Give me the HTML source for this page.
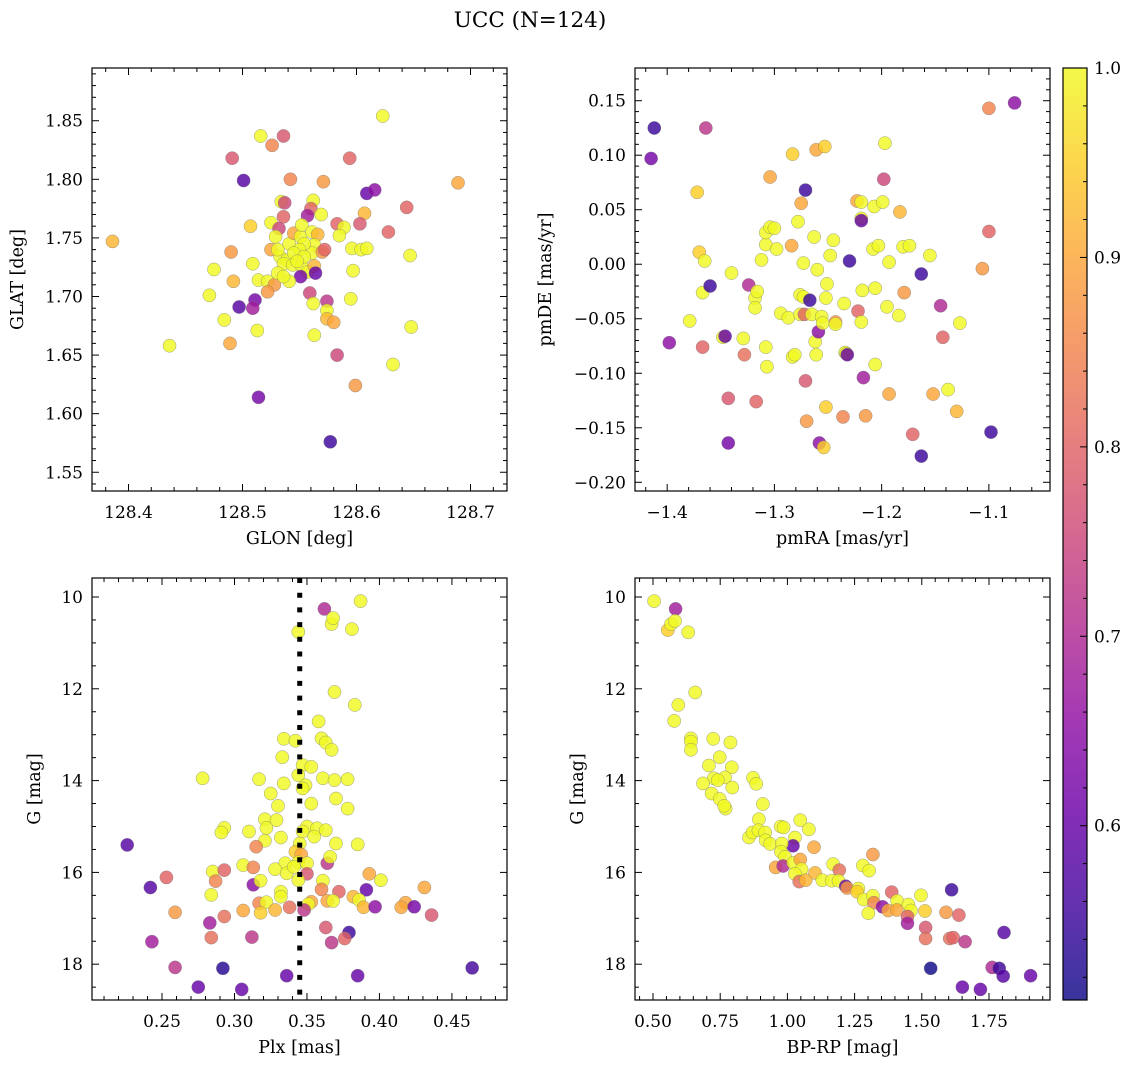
<!DOCTYPE html>
<html><head><meta charset="utf-8">
<style>
html,body{margin:0;padding:0;background:#fff;}
svg{display:block;font-family:"DejaVu Serif","Liberation Serif",serif;}
</style></head>
<body>
<svg id="fig" width="1136" height="1068" viewBox="0 0 1136 1068" xmlns="http://www.w3.org/2000/svg">
<defs>
<linearGradient id="plasma" x1="0" y1="1" x2="0" y2="0">
<stop offset="0" stop-color="#0d0887"/><stop offset="0.1" stop-color="#41049d"/><stop offset="0.2" stop-color="#6a00a8"/><stop offset="0.3" stop-color="#8f0da4"/><stop offset="0.4" stop-color="#b12a90"/><stop offset="0.5" stop-color="#cc4778"/><stop offset="0.6" stop-color="#e16462"/><stop offset="0.7" stop-color="#f2844b"/><stop offset="0.8" stop-color="#fca636"/><stop offset="0.9" stop-color="#fcce25"/><stop offset="1" stop-color="#f0f921"/>
</linearGradient>
</defs>
<text x="530" y="27" font-size="21.5" text-anchor="middle">UCC (N=124)</text>
</svg>
<script>
// ---- data ----
const posPoints = [[128.386,1.747,.92],[128.436,1.658,1],[128.514,1.614,.62],[128.577,1.576,.55],[128.583,1.650,.75],[128.599,1.624,.88],[128.632,1.642,1],[128.689,1.797,.9],
[128.623,1.854,1],[128.516,1.837,1],[128.536,1.837,.78],[128.526,1.829,.85],[128.491,1.818,.78],[128.594,1.818,.8],[128.501,1.799,.58],[128.542,1.800,.85],[128.571,1.798,.88],[128.609,1.788,.6],[128.616,1.791,.65],[128.534,1.781,1],[128.537,1.780,.75],[128.562,1.782,1],[128.560,1.775,.8],[128.557,1.769,.68],[128.569,1.770,1],[128.644,1.776,.8],[128.607,1.771,.92],[128.536,1.768,.8],[128.507,1.760,.95],[128.525,1.763,1],[128.532,1.758,.75],[128.583,1.762,.8],[128.589,1.759,1],[128.585,1.752,1],[128.603,1.762,.78],[128.628,1.755,.8],[128.647,1.735,1],[128.490,1.738,.88],[128.475,1.723,1],[128.509,1.728,1],[128.492,1.713,.92],[128.514,1.714,1],[128.522,1.713,1],[128.528,1.710,.88],[128.522,1.704,.88],[128.471,1.701,1],[128.597,1.722,1],[128.596,1.741,1],[128.604,1.740,1],[128.609,1.741,1],[128.595,1.698,1],[128.497,1.691,.58],[128.511,1.697,.62],[128.509,1.690,.68],[128.559,1.703,.75],[128.562,1.694,1],[128.574,1.696,.72],[128.574,1.688,1],[128.574,1.681,.92],[128.580,1.678,.9],[128.484,1.680,1],[128.513,1.671,1],[128.489,1.660,.9],[128.563,1.667,1],[128.648,1.674,1],
[128.525,1.740,.9],[128.529,1.751,1],[128.533,1.734,1],[128.531,1.740,1],[128.541,1.745,1],[128.539,1.731,1],[128.536,1.728,1],[128.545,1.754,.9],[128.551,1.751,1],[128.552,1.761,1],[128.561,1.755,1],[128.566,1.753,.92],[128.563,1.744,1],[128.561,1.737,1],[128.554,1.745,1],[128.550,1.740,1],[128.545,1.737,1],[128.544,1.727,1],[128.552,1.726,1],[128.557,1.721,1],[128.563,1.726,.92],[128.564,1.720,.6],[128.551,1.717,.62],[128.541,1.713,1],[128.531,1.720,1],[128.536,1.717,1],[128.570,1.738,.88],[128.572,1.740,.8],[128.554,1.734,1],[128.548,1.730,1]];

const pmPoints = [[-1.412,0.125,.55],[-1.415,0.097,.62],[-1.398,-0.072,.65],[-1.379,-0.052,1],[-1.372,0.066,.95],[-1.370,0.011,.95],[-1.367,-0.026,1],[-1.367,-0.076,.8],[-1.365,0.003,1],[-1.364,0.125,.72],[-1.360,-0.020,.55],[-1.348,-0.067,1],[-1.346,-0.066,.6],[-1.343,-0.123,.78],[-1.343,-0.164,.62],[-1.340,-0.008,1],[-1.329,-0.068,1],[-1.328,-0.083,.82],[-1.324,-0.019,.7],[-1.318,-0.031,1],[-1.318,-0.040,1],[-1.317,-0.126,.8],[-1.316,-0.025,1],[-1.312,0.004,1],[-1.308,0.018,1],[-1.308,0.029,1],[-1.308,-0.076,1],[-1.307,-0.094,1],[-1.304,0.080,.9],[-1.304,0.034,1],[-1.300,0.033,1],[-1.298,0.014,1],[-1.294,-0.045,1],[-1.287,-0.049,1],[-1.284,0.017,.9],[-1.283,0.101,.95],[-1.283,-0.085,1],[-1.281,-0.083,1],[-1.278,0.039,1],[-1.276,-0.028,1],[-1.276,-0.046,1],[-1.275,0.056,.9],[-1.273,-0.030,1],[-1.273,0.001,1],[-1.272,-0.046,.8],[-1.271,-0.107,.78],[-1.271,0.068,.55],[-1.270,-0.144,.88],[-1.267,-0.033,.55],[-1.265,-0.046,1],[-1.263,0.025,1],[-1.262,-0.071,1],[-1.261,-0.083,1],[-1.261,0.105,.9],[-1.260,-0.005,1],[-1.259,-0.062,.65],[-1.258,-0.164,.65],[-1.256,-0.048,1],[-1.255,-0.054,1],[-1.254,-0.168,.95],[-1.253,0.108,.95],[-1.252,-0.131,.95],[-1.252,-0.031,1],[-1.251,-0.018,1],[-1.248,0.008,1],[-1.245,0.022,1],[-1.243,-0.053,.88],[-1.243,-0.055,1],[-1.236,-0.140,.85],[-1.235,-0.036,1],[-1.234,-0.081,1],[-1.233,-0.082,1],[-1.232,-0.083,.6],[-1.230,0.003,.55],[-1.223,0.058,.9],[-1.222,-0.043,.8],[-1.219,0.042,1],[-1.219,0.057,1],[-1.219,0.040,.6],[-1.219,-0.053,1],[-1.218,-0.024,1],[-1.217,-0.104,.68],[-1.215,-0.139,.88],[-1.208,0.014,1],[-1.207,0.053,1],[-1.206,-0.092,1],[-1.206,-0.022,1],[-1.203,0.017,1],[-1.199,0.057,1],[-1.198,0.078,.75],[-1.197,0.111,1],[-1.195,-0.039,1],[-1.193,0.002,1],[-1.193,-0.119,.9],[-1.184,-0.047,1],[-1.183,0.048,.92],[-1.180,0.016,1],[-1.179,-0.026,.88],[-1.174,0.017,1],[-1.171,-0.156,.8],[-1.163,-0.009,.55],[-1.163,-0.176,.55],[-1.155,0.008,1],[-1.152,-0.119,.9],[-1.145,-0.038,.7],[-1.143,-0.067,.8],[-1.138,-0.115,1],[-1.130,-0.135,.92],[-1.127,-0.054,1],[-1.106,-0.004,.88],[-1.100,0.030,.8],[-1.100,0.143,.85],[-1.098,-0.154,.55],[-1.076,0.148,.65]];

const plxPoints = [[0.362,10.26,.7],[0.387,10.09,1],[0.344,10.76,1],[0.367,10.59,1],[0.368,10.46,1],[0.381,10.70,1],[0.369,12.07,1],
[0.383,12.35,1],[0.358,12.71,1],[0.334,13.09,1],[0.342,13.13,1],[0.360,13.08,1],[0.363,13.17,1],[0.367,13.33,1],[0.333,13.49,1],[0.347,13.66,1],[0.353,13.70,1],[0.344,13.88,1],[0.278,13.95,1],[0.317,13.97,1],[0.334,14.06,1],[0.361,13.95,1],[0.369,13.99,1],[0.378,13.97,1],[0.349,14.10,1],[0.347,14.17,1],[0.325,14.28,1],[0.370,14.39,1],[0.330,14.55,1],[0.353,14.50,1],[0.378,14.61,1],[0.321,14.84,1],[0.329,14.86,1],[0.322,15.03,1],[0.293,15.03,1],[0.291,15.13,1],[0.310,15.11,1],[0.350,15.00,1],[0.357,15.04,1],[0.363,15.08,1],[0.347,15.11,1],[0.355,15.22,1],[0.332,15.24,1],[0.321,15.31,1],[0.370,15.37,1],[0.385,15.39,1],[0.226,15.40,.58],[0.345,15.37,1],[0.315,15.44,.85],[0.342,15.55,.95],[0.346,15.61,.9],[0.364,15.80,.72],[0.366,15.66,1],[0.335,15.80,1],[0.344,15.78,1],[0.350,15.80,1],[0.306,15.84,1],[0.313,15.89,.85],[0.328,15.93,1],[0.336,16.02,1],[0.341,15.88,1],[0.285,15.98,1],[0.293,15.95,.8],[0.350,16.03,.78],[0.393,16.03,.9],[0.401,16.17,1],[0.253,16.11,.8],[0.287,16.19,.85],[0.313,16.27,.65],[0.318,16.18,1],[0.344,16.17,1],[0.361,16.18,1],[0.360,16.37,.85],[0.242,16.33,.58],[0.372,16.42,.8],[0.391,16.38,.6],[0.431,16.33,.9],[0.332,16.42,1],[0.332,16.53,1],[0.284,16.49,1],[0.382,16.53,.92],[0.386,16.60,1],[0.317,16.67,.85],[0.322,16.65,1],[0.353,16.64,.9],[0.351,16.69,1],[0.364,16.62,.9],[0.368,16.62,1],[0.389,16.76,.92],[0.397,16.75,.65],[0.418,16.66,.9],[0.415,16.76,.9],[0.424,16.75,.62],[0.436,16.93,.78],[0.259,16.87,.88],[0.293,16.96,.82],[0.306,16.83,.9],[0.318,16.88,.95],[0.328,16.82,.92],[0.338,16.76,.82],[0.348,16.82,.72],[0.283,17.10,.68],[0.363,17.20,.78],[0.379,17.31,.55],[0.243,17.51,.68],[0.284,17.42,.82],[0.312,17.41,.72],[0.367,17.53,.72],[0.376,17.44,.8],[0.259,18.07,.72],[0.292,18.09,.53],[0.336,18.25,.6],[0.385,18.25,.6],[0.464,18.08,.56],[0.275,18.50,.6],[0.305,18.55,.6]];

const cmdPoints = [[0.504,10.09,1],[0.584,10.26,.68],[0.555,10.72,.95],[0.567,10.59,1],[0.582,10.52,1],[0.631,10.77,1],[0.657,12.08,1],[0.594,12.35,1],[0.579,12.70,1],[0.641,13.08,1],[0.641,13.15,1],[0.641,13.33,1],[0.724,13.09,1],[0.788,13.17,1],[0.748,13.49,1],[0.708,13.67,1],[0.793,13.71,1],[0.726,13.95,1],[0.768,13.93,1],[0.741,13.99,1],[0.686,14.06,1],[0.795,14.15,1],[0.718,14.28,1],[0.748,14.40,1],[0.770,14.61,1],[0.765,14.55,1],[0.872,13.94,1],[0.884,14.07,1],[0.909,14.51,1],[0.894,14.84,1],[1.048,14.86,1],[1.080,15.06,1],[0.975,15.00,1],[0.986,15.02,1],[0.857,15.24,1],[0.870,15.13,1],[0.892,15.08,1],[0.917,15.13,1],[0.919,15.30,1],[0.936,15.38,1],[1.028,15.24,1],[1.021,15.42,.6],[1.099,15.45,.9],[0.979,15.37,1],[0.976,15.55,1],[0.991,15.66,1],[1.318,15.61,.88],[0.956,15.89,.9],[0.984,15.86,.7],[1.022,15.79,1],[1.048,15.72,.9],[1.053,15.93,1],[1.028,16.03,1],[1.044,16.20,.82],[1.068,16.17,.92],[1.103,16.01,.92],[1.170,15.82,1],[1.281,15.85,1],[1.304,15.96,1],[1.193,15.95,.82],[1.130,16.17,1],[1.165,16.18,1],[1.190,16.18,1],[1.217,16.30,.6],[1.222,16.34,.88],[1.264,16.35,1],[1.259,16.42,.95],[1.284,16.59,1],[1.318,16.51,1],[1.322,16.66,.85],[1.301,16.89,1],[1.354,16.75,.65],[1.375,16.83,.9],[1.388,16.43,.8],[1.408,16.62,1],[1.450,16.70,1],[1.460,16.83,1],[1.407,16.82,.9],[1.447,16.96,.8],[1.447,17.11,.68],[1.497,16.50,1],[1.512,16.84,.95],[1.514,17.20,.78],[1.514,17.44,.82],[1.611,16.38,.55],[1.590,16.87,.88],[1.638,16.93,.8],[1.604,17.44,.82],[1.617,17.42,.8],[1.661,17.51,.72],[1.806,17.31,.58],[1.533,18.09,.5],[1.762,18.07,.7],[1.788,18.09,.55],[1.803,18.26,.58],[1.905,18.25,.6],[1.651,18.50,.6],[1.718,18.55,.6]];

const plxMedian = [0.345];

const glonTicks = [128.4,128.5,128.6,128.7];
const glonLabels = ["128.4","128.5","128.6","128.7"];
const glatTicks = [1.55,1.60,1.65,1.70,1.75,1.80,1.85];
const glatLabels = ["1.55","1.60","1.65","1.70","1.75","1.80","1.85"];
const pmraTicks = [-1.4,-1.3,-1.2,-1.1];
const pmraLabels = ["−1.4","−1.3","−1.2","−1.1"];
const pmdeTicks = [-0.20,-0.15,-0.10,-0.05,0,0.05,0.10,0.15];
const pmdeLabels = ["−0.20","−0.15","−0.10","−0.05","0.00","0.05","0.10","0.15"];
const plxTicks = [0.25,0.30,0.35,0.40,0.45];
const plxLabels = ["0.25","0.30","0.35","0.40","0.45"];
const gTicks = [10,12,14,16,18];
const gLabels = ["10","12","14","16","18"];
const bprpTicks = [0.5,0.75,1.0,1.25,1.5,1.75];
const bprpLabels = ["0.50","0.75","1.00","1.25","1.50","1.75"];
const cbTicks = [0.6,0.7,0.8,0.9,1.0];
const cbLabels = ["0.6","0.7","0.8","0.9","1.0"];
const cbRange = [0.508, 1.0];

// ---- drawing ----
const NS = "http://www.w3.org/2000/svg";
const svg = document.getElementById('fig');
const TICKFS = 17, TITLEFS = 17.5;
function mk(tag, attrs, parent){
  const e = document.createElementNS(NS, tag);
  for (const k in attrs) e.setAttribute(k, attrs[k]);
  (parent||svg).appendChild(e);
  return e;
}
const plasma = ["#0d0887","#41049d","#6a00a8","#8f0da4","#b12a90","#cc4778","#e16462","#f2844b","#fca636","#fcce25","#f0f921"];
function hex(h){return [parseInt(h.slice(1,3),16),parseInt(h.slice(3,5),16),parseInt(h.slice(5,7),16)];}
function cmap(p){
  let t = (p-cbRange[0])/(cbRange[1]-cbRange[0]); t=Math.max(0,Math.min(1,t));
  const f=t*10, i=Math.min(9,Math.floor(f)), r=f-i;
  const a=hex(plasma[i]), b=hex(plasma[i+1]);
  return "rgb("+a.map((v,k)=>Math.round(v+(b[k]-v)*r)).join(",")+")";
}

function panel(cfg){
  const g = mk('g',{});
  
  
  const sx = v => cfg.x0 + (v-cfg.xmin)/(cfg.xmax-cfg.xmin)*(cfg.x1-cfg.x0);
  const sy = cfg.invert
    ? v => cfg.y0 + (v-cfg.ymin)/(cfg.ymax-cfg.ymin)*(cfg.y1-cfg.y0)
    : v => cfg.y1 - (v-cfg.ymin)/(cfg.ymax-cfg.ymin)*(cfg.y1-cfg.y0);
  const pg = mk('g',{}, g);
  
  
  cfg.points.forEach(d=>{
    const c = mk('circle',{cx:sx(d[0]).toFixed(1),cy:sy(d[1]).toFixed(1),r:6.6,fill:cmap(d[2]),'fill-opacity':0.82,stroke:'#777','stroke-width':0.5,'stroke-opacity':0.7}, pg);
    
    
  });
  if (cfg.vline){
    cfg.vline.forEach(v=>{
      const l = mk('line',{x1:sx(v),x2:sx(v),y1:cfg.y0,y2:cfg.y1,stroke:'#000','stroke-width':5,'stroke-dasharray':'5 9.7'}, g);
      
      
    });
  }
  const fr = mk('rect',{x:cfg.x0,y:cfg.y0,width:cfg.x1-cfg.x0,height:cfg.y1-cfg.y0,fill:'none',stroke:'#000','stroke-width':1.2}, g);
  
  
  const tk = mk('g',{stroke:'#000','stroke-width':1}, g);
  const eps=1e-9;
  for (let v=Math.ceil(cfg.xmin/cfg.xminor-eps)*cfg.xminor; v<=cfg.xmax+eps; v+=cfg.xminor){
    const X=sx(v); const major = cfg.xticks.some(t=>Math.abs(t-v)<cfg.xminor/10); const L=major?7:4;
    mk('line',{x1:X,x2:X,y1:cfg.y1,y2:cfg.y1-L},tk); mk('line',{x1:X,x2:X,y1:cfg.y0,y2:cfg.y0+L},tk);
  }
  for (let v=Math.ceil(cfg.ymin/cfg.yminor-eps)*cfg.yminor; v<=cfg.ymax+eps; v+=cfg.yminor){
    const Y=sy(v); const major = cfg.yticks.some(t=>Math.abs(t-v)<cfg.yminor/10); const L=major?7:4;
    mk('line',{x1:cfg.x0,x2:cfg.x0+L,y1:Y,y2:Y},tk); mk('line',{x1:cfg.x1,x2:cfg.x1-L,y1:Y,y2:Y},tk);
  }
  cfg.xticks.forEach((v,i)=>{
    const t = mk('text',{x:sx(v),y:cfg.y1+27,'font-size':TICKFS,'text-anchor':'middle'}, g);
    t.textContent = cfg.xlabels[i];
    
    
  });
  cfg.yticks.forEach((v,i)=>{
    const t = mk('text',{x:cfg.x0-9,y:sy(v)+6,'font-size':TICKFS,'text-anchor':'end'}, g);
    t.textContent = cfg.ylabels[i];
    
    
  });
  const xt = mk('text',{x:(cfg.x0+cfg.x1)/2,y:cfg.y1+53,'font-size':TITLEFS,'text-anchor':'middle'}, g);
  xt.textContent = cfg.xtitle;
  
  
  const yt = mk('text',{x:cfg.ytx,y:(cfg.y0+cfg.y1)/2,'font-size':TITLEFS,'text-anchor':'middle',transform:'rotate(-90 '+cfg.ytx+' '+((cfg.y0+cfg.y1)/2)+')'}, g);
  yt.textContent = cfg.ytitle;
  
  
}

panel({name:'position-panel',x0:92,x1:507,y0:68,y1:491,xmin:128.368,xmax:128.732,ymin:1.534,ymax:1.895,
  points:posPoints,xticks:glonTicks,xlabels:glonLabels,yticks:glatTicks,ylabels:glatLabels,xminor:0.02,yminor:0.01,
  xtitle:'GLON [deg]',ytitle:'GLAT [deg]',ytx:23});
panel({name:'proper-motion-panel',x0:635,x1:1050,y0:68,y1:491,xmin:-1.430,xmax:-1.043,ymin:-0.208,ymax:0.180,
  points:pmPoints,xticks:pmraTicks,xlabels:pmraLabels,yticks:pmdeTicks,ylabels:pmdeLabels,xminor:0.02,yminor:0.01,
  xtitle:'pmRA [mas/yr]',ytitle:'pmDE [mas/yr]',ytx:551});
panel({name:'parallax-panel',x0:92,x1:507,y0:578,y1:1000,xmin:0.2017,xmax:0.488,ymin:9.586,ymax:18.78,invert:true,
  points:plxPoints,vline:plxMedian,xticks:plxTicks,xlabels:plxLabels,yticks:gTicks,ylabels:gLabels,xminor:0.01,yminor:0.5,
  xtitle:'Plx [mas]',ytitle:'G [mag]',ytx:40});
panel({name:'cmd-panel',x0:635,x1:1050,y0:578,y1:1000,xmin:0.433,xmax:1.977,ymin:9.586,ymax:18.78,invert:true,
  points:cmdPoints,xticks:bprpTicks,xlabels:bprpLabels,yticks:gTicks,ylabels:gLabels,xminor:0.05,yminor:0.5,
  xtitle:'BP-RP [mag]',ytitle:'G [mag]',ytx:583});

(function(){
  const x0=1063,x1=1087,y0=68,y1=1000;
  const g = mk('g',{});
  
  
  mk('rect',{x:x0,y:y0,width:x1-x0,height:y1-y0,fill:'url(#plasma)','fill-opacity':0.82},g);
  mk('rect',{x:x0,y:y0,width:x1-x0,height:y1-y0,fill:'none',stroke:'#000','stroke-width':1.2},g);
  const sy = v => y1 - (v-cbRange[0])/(cbRange[1]-cbRange[0])*(y1-y0);
  for (let v=0.52; v<=1.0001; v+=0.02){
    const major = cbTicks.some(t=>Math.abs(t-v)<0.002);
    mk('line',{x1:x1,x2:x1-(major?7:4),y1:sy(v),y2:sy(v),stroke:'#000','stroke-width':1},g);
  }
  cbTicks.forEach((v,i)=>{
    const t = mk('text',{x:x1+7,y:sy(v)+6,'font-size':TICKFS},g);
    t.textContent = cbLabels[i];
    
    
  });
})();
</script>
</body></html>
